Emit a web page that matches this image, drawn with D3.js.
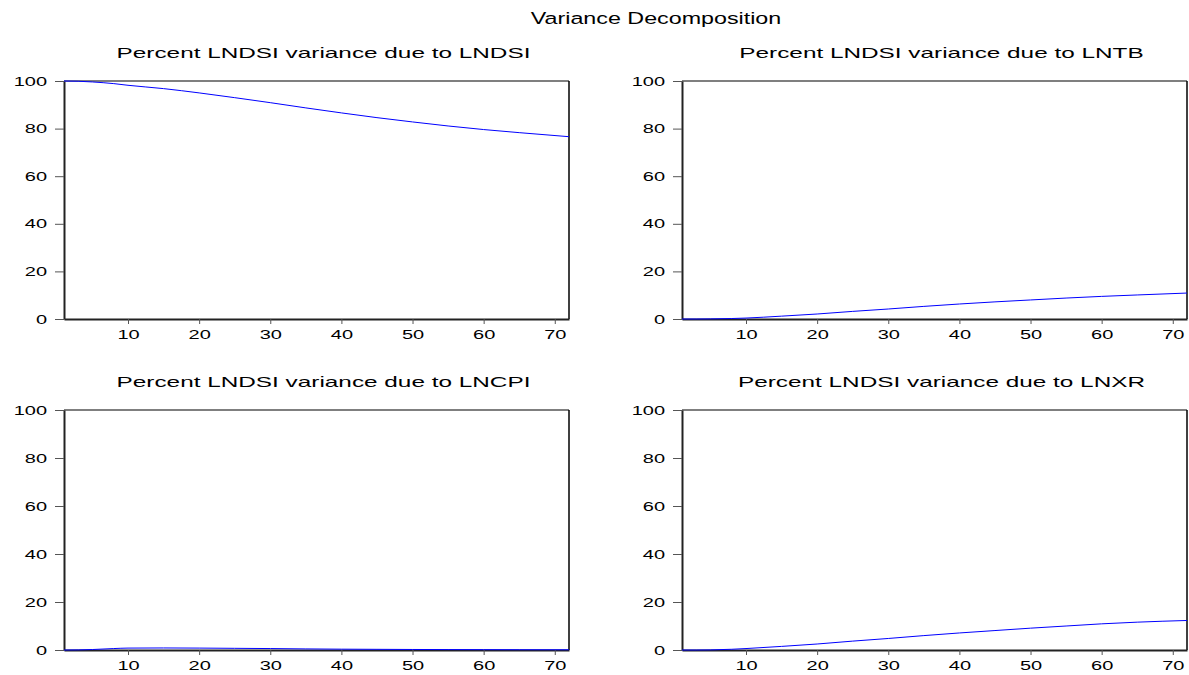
<!DOCTYPE html>
<html>
<head>
<meta charset="utf-8">
<script src="https://cdn.jsdelivr.net/npm/d3@7"></script>
<style>
  html, body { margin: 0; padding: 0; background: #fff; }
  svg { display: block; font-family: "Liberation Sans", Arial, sans-serif; }
</style>
</head>
<body>
<svg id="chart" width="1189" height="675"></svg>
<script>
// ---- Data ----
const mainTitle = "Variance Decomposition";
const panelTitles = [
  "Percent LNDSI variance due to LNDSI",
  "Percent LNDSI variance due to LNTB",
  "Percent LNDSI variance due to LNCPI",
  "Percent LNDSI variance due to LNXR"
];
const periods = [1, 3, 5, 8, 10, 15, 20, 25, 30, 35, 40, 45, 50, 55, 60, 65, 72];
const lndsi = [100, 99.9, 99.6, 98.9, 98.2, 96.8, 95.0, 93.0, 90.9, 88.7, 86.6, 84.6, 82.8, 81.1, 79.6, 78.3, 76.6];
const lntb  = [0, 0, 0.05, 0.2, 0.4, 1.2, 2.1, 3.2, 4.2, 5.3, 6.3, 7.2, 8.0, 8.8, 9.5, 10.1, 10.9];
const lncpi = [0, 0.05, 0.2, 0.6, 0.8, 0.85, 0.8, 0.7, 0.6, 0.45, 0.35, 0.28, 0.22, 0.18, 0.15, 0.12, 0.1];
const lnxr  = [0, 0, 0.05, 0.3, 0.6, 1.5, 2.5, 3.7, 4.8, 6.0, 7.1, 8.1, 9.1, 10.0, 10.9, 11.6, 12.3];
const seriesList = [lndsi, lntb, lncpi, lnxr];
const xTicks = [10, 20, 30, 40, 50, 60, 70];
const yTicks = [0, 20, 40, 60, 80, 100];
const xDomain = [1, 72];
const yDomain = [0, 100];

// ---- Layout ----
const svg = d3.select("#chart");
const panels = [
  { x0: 64,  x1: 569,  y0: 81,  y1: 319 },
  { x0: 682, x1: 1187, y0: 81,  y1: 319 },
  { x0: 64,  x1: 569,  y0: 410, y1: 650 },
  { x0: 682, x1: 1187, y0: 410, y1: 650 }
];

svg.append("text")
  .attr("transform", `translate(656,24) scale(1.37,1)`)
  .attr("text-anchor", "middle")
  .attr("font-size", 17)
  .text(mainTitle);

panels.forEach((p, i) => {
  const x = d3.scaleLinear().domain(xDomain).range([p.x0, p.x1]);
  const y = d3.scaleLinear().domain(yDomain).range([p.y1, p.y0]);
  const g = svg.append("g");

  // title
  g.append("text")
    .attr("transform", `translate(${(p.x0 + p.x1) / 2 + 7},${p.y0 - 23}) scale(1.58,1)`)
    .attr("text-anchor", "middle")
    .attr("font-size", 15.4)
    .text(panelTitles[i]);

  // frame top/right
  g.append("line").attr("x1", p.x0).attr("x2", p.x1).attr("y1", p.y0).attr("y2", p.y0)
    .attr("stroke", "#000").attr("stroke-width", 1.2);
  g.append("line").attr("x1", p.x1).attr("x2", p.x1).attr("y1", p.y0).attr("y2", p.y1)
    .attr("stroke", "#000").attr("stroke-width", 1.5);

  // axes
  const SX = 1.6;
  const xAxis = d3.axisBottom(x).tickValues(xTicks).tickSize(5).tickSizeOuter(0);
  const yAxis = d3.axisLeft(y).tickValues(yTicks).tickSize(9).tickSizeOuter(0);
  const gx = g.append("g").attr("transform", `translate(0,${p.y1})`).call(xAxis);
  const gy = g.append("g").attr("transform", `translate(${p.x0},0)`).call(yAxis);
  [gx, gy].forEach(a => {
    a.select(".domain").attr("stroke", "#222").attr("stroke-width", 2);
    a.selectAll(".tick line").attr("stroke", "#555").attr("stroke-width", 1);
    a.selectAll(".tick text").attr("fill", "#000").attr("font-size", 12.5)
      .attr("font-family", "'Liberation Sans', Arial, sans-serif")
      .attr("transform", `scale(${SX},1)`);
  });
  gx.selectAll(".tick text").attr("y", 11);
  gy.selectAll(".tick text").attr("x", -17 / SX);

  // series line
  const data = periods.map((d, k) => [d, seriesList[i][k]]);
  const line = d3.line().x(d => x(d[0])).y(d => y(d[1])).curve(d3.curveMonotoneX);
  g.append("path").datum(data)
    .attr("d", line)
    .attr("fill", "none")
    .attr("stroke", "#0000ff")
    .attr("stroke-width", 1);
});
</script>
</body>
</html>
